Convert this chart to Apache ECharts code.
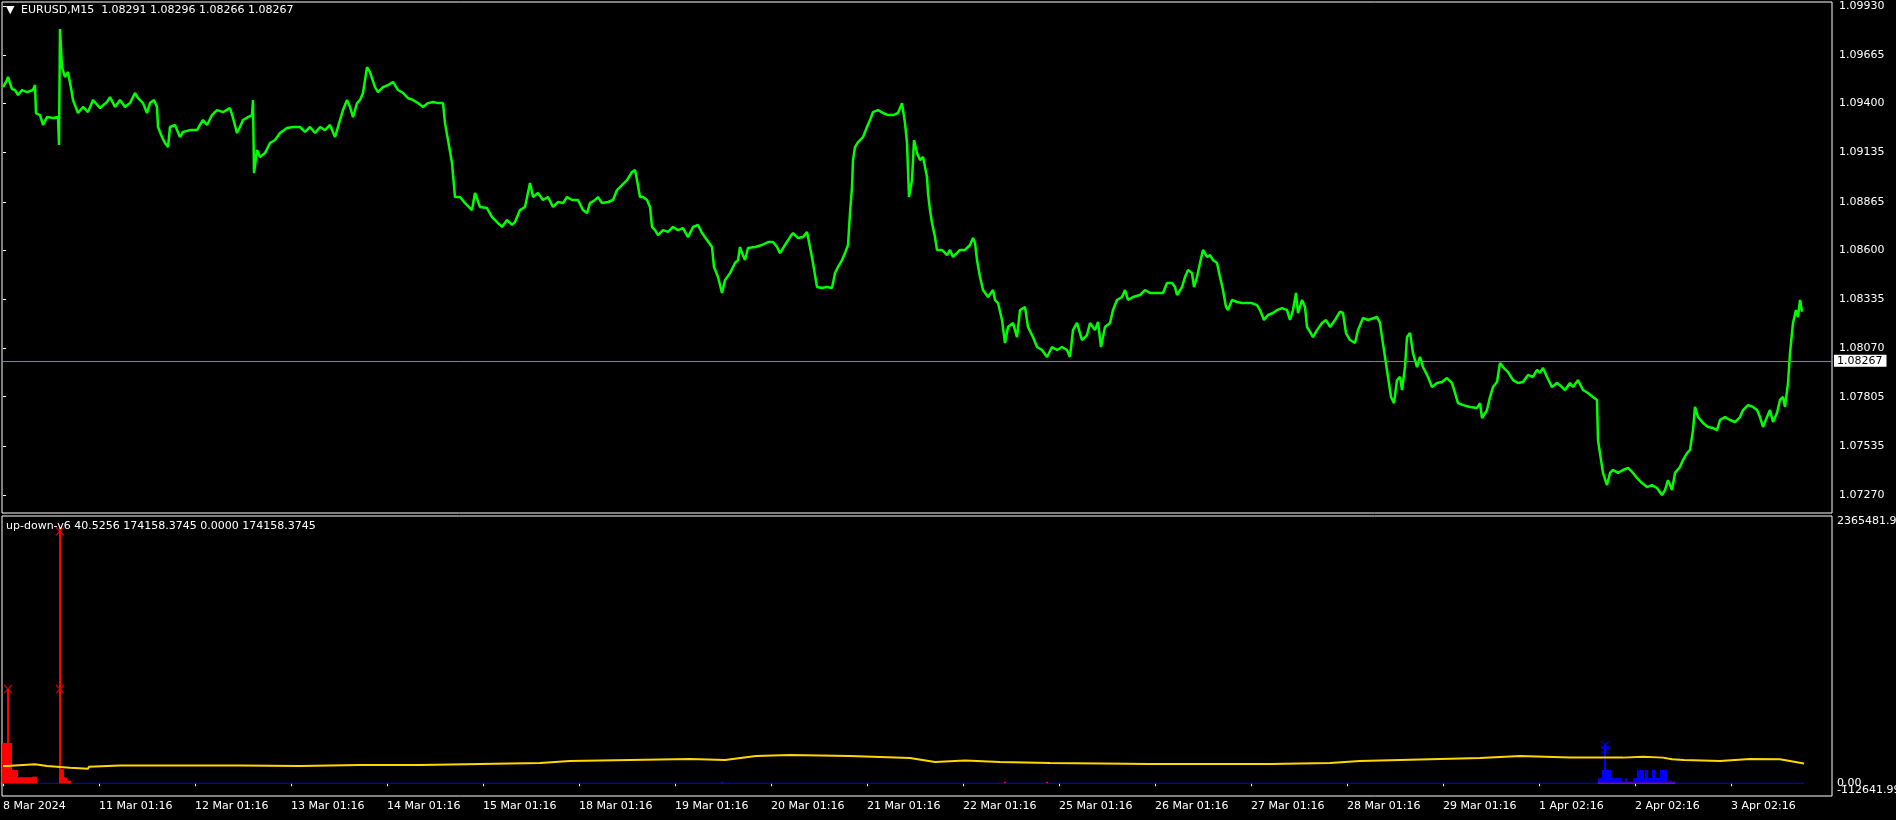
<!DOCTYPE html>
<html><head><meta charset="utf-8">
<script src="https://cdn.jsdelivr.net/npm/echarts@6/dist/echarts.min.js"></script>
<style>html,body{margin:0;padding:0;background:#000;}#c{width:1896px;height:820px;}</style>
</head><body><div id="c"></div>
<script>
// ---------- DATA ----------
const symbolName = 'EURUSD,M15';
const ohlc = ['1.08291', '1.08296', '1.08266', '1.08267'];
const indName = 'up-down-v6';
const indValues = ['40.5256', '174158.3745', '0.0000', '174158.3745'];
const priceTicks = [1.07270, 1.07535, 1.07805, 1.08070, 1.08335, 1.08600, 1.08865, 1.09135, 1.09400, 1.09665, 1.09930];
const timeLabels = ['8 Mar 2024', '11 Mar 01:16', '12 Mar 01:16', '13 Mar 01:16', '14 Mar 01:16', '15 Mar 01:16',
  '18 Mar 01:16', '19 Mar 01:16', '20 Mar 01:16', '21 Mar 01:16', '22 Mar 01:16', '25 Mar 01:16', '26 Mar 01:16',
  '27 Mar 01:16', '28 Mar 01:16', '29 Mar 01:16', '1 Apr 02:16', '2 Apr 02:16', '3 Apr 02:16'];
const barsPerLabel = 96;
const lastClose = 1.08267;
// [bar index, close]
const closeSeries = [
[0,1.09489],[4,1.09527],[5,1.09544],[9,1.09478],[12,1.09473],[15,1.09446],[19,1.09473],[24,1.09462],[30,1.09473],[32,1.09500],
[33,1.09348],[37,1.09337],[40,1.09283],[44,1.09326],[50,1.09321],[55,1.09326],[56,1.09174],[57,1.09805],[59,1.09598],[62,1.09544],
[65,1.09571],[68,1.09484],[70,1.09419],[75,1.09348],[80,1.09381],[85,1.09353],[90,1.09419],[97,1.09375],[104,1.09408],[107,1.09435],
[112,1.09381],[117,1.09419],[122,1.09381],[127,1.09402],[132,1.09457],[135,1.09429],[140,1.09402],[144,1.09348],[147,1.09402],[151,1.09419],
[154,1.09381],[155,1.09272],[159,1.09217],[162,1.09185],[165,1.09163],[167,1.09272],[172,1.09283],[177,1.09217],[180,1.09245],[187,1.09255],
[194,1.09255],[197,1.09283],[200,1.09310],[204,1.09283],[209,1.09337],[214,1.09364],[220,1.09353],[227,1.09375],[230,1.09321],[234,1.09239],
[237,1.09272],[240,1.09310],[245,1.09326],[249,1.09337],[250,1.09419],[251,1.09021],[254,1.09147],[257,1.09109],[262,1.09130],[267,1.09185],
[272,1.09201],[277,1.09239],[284,1.09266],[290,1.09272],[297,1.09272],[302,1.09245],[307,1.09272],[312,1.09239],[317,1.09272],[322,1.09255],
[327,1.09283],[332,1.09217],[337,1.09310],[340,1.09364],[344,1.09419],[347,1.09381],[350,1.09326],[354,1.09402],[357,1.09419],[360,1.09457],
[364,1.09598],[367,1.09571],[372,1.09489],[375,1.09462],[380,1.09489],[385,1.09500],[390,1.09517],[395,1.09473],[400,1.09457],[405,1.09429],
[410,1.09419],[415,1.09402],[420,1.09381],[425,1.09402],[430,1.09408],[435,1.09402],[440,1.09402],[442,1.09293],[445,1.09201],[449,1.09076],
[452,1.08891],[457,1.08891],[462,1.08858],[469,1.08820],[472,1.08913],[477,1.08837],[484,1.08831],[489,1.08782],[494,1.08755],[499,1.08728],
[504,1.08766],[509,1.08739],[512,1.08755],[517,1.08820],[522,1.08837],[527,1.08967],[530,1.08891],[535,1.08913],[540,1.08875],[545,1.08891],
[550,1.08837],[555,1.08864],[560,1.08858],[564,1.08891],[569,1.08875],[575,1.08875],[580,1.08820],[584,1.08804],[587,1.08858],[592,1.08875],
[595,1.08891],[599,1.08858],[605,1.08864],[610,1.08875],[614,1.08929],[619,1.08956],[624,1.08983],[629,1.09027],[632,1.09038],[634,1.08983],
[637,1.08891],[640,1.08891],[644,1.08875],[647,1.08837],[649,1.08728],[652,1.08711],[655,1.08684],[660,1.08711],[665,1.08701],[670,1.08728],
[675,1.08711],[680,1.08722],[685,1.08673],[690,1.08728],[695,1.08739],[699,1.08695],[704,1.08657],[709,1.08619],[711,1.08510],[715,1.08456],
[719,1.08369],[722,1.08439],[727,1.08477],[732,1.08532],[735,1.08548],[737,1.08619],[739,1.08586],[742,1.08548],[745,1.08614],[752,1.08619],
[759,1.08630],[765,1.08646],[770,1.08646],[774,1.08619],[777,1.08586],[782,1.08630],[787,1.08673],[790,1.08695],[795,1.08668],[800,1.08673],
[804,1.08701],[807,1.08619],[810,1.08532],[814,1.08401],[819,1.08396],[824,1.08401],[829,1.08396],[832,1.08477],[835,1.08510],[839,1.08548],
[842,1.08586],[845,1.08630],[847,1.08804],[849,1.08945],[850,1.09092],[852,1.09163],[855,1.09190],[860,1.09217],[864,1.09272],[867,1.09310],
[870,1.09353],[875,1.09364],[880,1.09348],[885,1.09337],[890,1.09337],[895,1.09348],[899,1.09402],[902,1.09293],[904,1.09185],[906,1.08891],
[909,1.08983],[911,1.09201],[914,1.09130],[917,1.09092],[920,1.09109],[924,1.09000],[925,1.08913],[927,1.08820],[929,1.08750],[932,1.08673],
[934,1.08603],[939,1.08603],[944,1.08575],[947,1.08603],[950,1.08565],[957,1.08603],[962,1.08603],[967,1.08630],[970,1.08668],[972,1.08641],
[974,1.08548],[977,1.08456],[980,1.08385],[985,1.08347],[990,1.08385],[992,1.08331],[995,1.08314],[999,1.08222],[1002,1.08097],[1005,1.08184],
[1010,1.08206],[1014,1.08129],[1017,1.08276],[1022,1.08293],[1025,1.08184],[1030,1.08129],[1034,1.08075],[1039,1.08059],[1044,1.08021],[1049,1.08075],
[1054,1.08059],[1059,1.08075],[1064,1.08059],[1067,1.08021],[1070,1.08167],[1074,1.08206],[1079,1.08113],[1084,1.08140],[1087,1.08206],[1092,1.08167],
[1095,1.08211],[1098,1.08075],[1102,1.08184],[1107,1.08206],[1110,1.08276],[1114,1.08331],[1119,1.08347],[1122,1.08385],[1125,1.08331],[1130,1.08347],
[1137,1.08358],[1142,1.08385],[1147,1.08369],[1154,1.08369],[1160,1.08369],[1164,1.08423],[1169,1.08423],[1172,1.08401],[1174,1.08358],[1179,1.08401],
[1182,1.08456],[1185,1.08494],[1189,1.08477],[1191,1.08401],[1194,1.08456],[1197,1.08532],[1200,1.08603],[1204,1.08565],[1207,1.08575],[1210,1.08548],
[1214,1.08532],[1217,1.08456],[1220,1.08385],[1223,1.08293],[1225,1.08276],[1229,1.08331],[1234,1.08320],[1239,1.08314],[1244,1.08314],[1249,1.08314],
[1254,1.08303],[1257,1.08276],[1261,1.08222],[1265,1.08249],[1270,1.08260],[1274,1.08276],[1279,1.08287],[1284,1.08276],[1287,1.08222],[1290,1.08276],
[1293,1.08369],[1295,1.08260],[1299,1.08331],[1302,1.08293],[1304,1.08184],[1307,1.08157],[1310,1.08129],[1314,1.08167],[1319,1.08206],[1323,1.08222],
[1327,1.08184],[1332,1.08222],[1337,1.08267],[1340,1.08260],[1343,1.08151],[1347,1.08113],[1352,1.08097],[1355,1.08167],[1360,1.08233],[1365,1.08222],
[1374,1.08238],[1377,1.08206],[1379,1.08129],[1382,1.08021],[1385,1.07912],[1388,1.07803],[1391,1.07770],[1394,1.07895],[1397,1.07912],[1399,1.07841],
[1402,1.07966],[1404,1.08129],[1407,1.08151],[1410,1.08042],[1414,1.07966],[1417,1.08021],[1420,1.07966],[1425,1.07912],[1429,1.07857],[1434,1.07879],
[1439,1.07885],[1444,1.07906],[1449,1.07879],[1452,1.07825],[1455,1.07770],[1460,1.07759],[1467,1.07749],[1474,1.07743],[1477,1.07770],[1479,1.07689],
[1484,1.07732],[1487,1.07803],[1490,1.07857],[1494,1.07885],[1497,1.07988],[1500,1.07966],[1505,1.07939],[1510,1.07895],[1515,1.07879],[1520,1.07885],
[1525,1.07923],[1530,1.07912],[1534,1.07950],[1537,1.07934],[1540,1.07961],[1544,1.07912],[1549,1.07857],[1554,1.07879],[1559,1.07857],[1562,1.07841],
[1567,1.07879],[1570,1.07857],[1575,1.07895],[1580,1.07841],[1585,1.07825],[1590,1.07803],[1594,1.07787],[1595,1.07569],[1598,1.07460],[1600,1.07390],
[1604,1.07324],[1607,1.07390],[1610,1.07406],[1615,1.07390],[1620,1.07406],[1625,1.07417],[1630,1.07390],[1634,1.07362],[1639,1.07335],[1644,1.07313],
[1649,1.07324],[1654,1.07308],[1659,1.07270],[1662,1.07297],[1665,1.07351],[1669,1.07297],[1672,1.07390],[1677,1.07422],[1680,1.07460],[1684,1.07498],
[1687,1.07515],[1690,1.07623],[1692,1.07749],[1695,1.07694],[1700,1.07662],[1705,1.07640],[1710,1.07634],[1714,1.07623],[1717,1.07678],[1722,1.07694],
[1727,1.07678],[1732,1.07667],[1737,1.07694],[1740,1.07732],[1745,1.07759],[1750,1.07749],[1754,1.07732],[1757,1.07694],[1760,1.07640],[1764,1.07694],
[1767,1.07732],[1770,1.07667],[1774,1.07716],[1777,1.07787],[1780,1.07803],[1782,1.07749],[1785,1.07879],[1787,1.08042],[1790,1.08206],[1793,1.08276],
[1795,1.08238],[1797,1.08331],[1799,1.08267]
];
// indicator
const indMax = 2365481.9;
const indMin = -112641.99;
const indTickLabels = ['2365481.9', '0.00', '-112641.99'];
const yellowLine = [
[0,153000],[4,153000],[5,168000],[32,168000],[33,153000],[44,153000],[45,138000],[67,138000],[68,129000],[85,129000],
[86,147000],[117,158000],[237,158000],[297,153000],[357,162000],[417,162000],[477,171000],[537,180000],[567,197000],
[627,206000],[687,215000],[722,206000],[753,242000],[787,250000],[847,242000],[907,224000],[932,189000],[962,202000],[997,189000],
[1047,180000],[1097,175000],[1147,171000],[1207,171000],[1267,171000],[1327,180000],[1357,197000],[1397,206000],[1437,215000],[1477,224000],
[1517,242000],[1567,227000],[1595,227000],[1596,215000],[1597,227000],[1620,227000],[1621,235000],[1640,235000],[1641,227000],[1660,227000],
[1661,212000],[1669,212000],[1670,206000],[1681,206000],[1682,195000],[1717,197000],[1747,215000],[1777,212000],[1801,174158]
];
const redHistStart = 0;
const redHist = [354000,354000,354000,354000,354000,834000,354000,354000,354000,118000,
118000,118000,118000,118000,118000,50000,50000,50000,50000,50000,
50000,50000,50000,50000,50000,50000,50000,50000,50000,50000,
58000,58000,58000,58000,0,0,0,0,0,0,
0,0,0,0,0,0,0,0,0,0,
0,0,0,0,0,0,0,2270000,124000,124000,
124000,50000,50000,50000,23000,23000,23000,23000];
const redSmall = [[1002,14000],[1044,14000]];
const redCross = [[5,834000],[5,318000],[57,2230000],[57,834000]];
const blueHistStart = 1595;
const blueHist = [14000,44000,44000,44000,44000,118000,118000,348000,118000,118000,
118000,118000,118000,44000,44000,44000,44000,14000,44000,44000,
44000,44000,44000,44000,14000,14000,14000,14000,44000,14000,
14000,14000,14000,14000,14000,14000,44000,44000,44000,44000,
118000,118000,118000,118000,118000,118000,44000,44000,118000,118000,
44000,44000,44000,44000,44000,118000,118000,44000,44000,44000,
44000,44000,44000,118000,118000,44000,118000,118000,118000,14000,
14000,14000,23000,23000,14000,14000,14000,14000];
const blueSmall = [[719,14000]];
const blueCross = [[1602,339000],[1602,295000]];
const zeroSpan = [0, 1801];
const redZeroSpan = [1595, 1672];

// ---------- CHART ----------
const FONT = 'DejaVu Sans';
const tickBars = timeLabels.map((_, i) => i * barsPerLabel);
const labelByBar = {};
tickBars.forEach((b, i) => { labelByBar[b] = timeLabels[i]; });
const crossPath = 'path://M0,1L1,0L5,4L9,0L10,1L6,5L10,9L9,10L5,6L1,10L0,9L4,5Z';

const chart = echarts.init(document.getElementById('c'), null, {renderer: 'canvas'});
chart.setOption({
  animation: false,
  backgroundColor: '#000',
  title: [
    {text: '\u25BC', left: 6, top: 5, padding: 0, textStyle: {color: '#fff', fontSize: 11, fontFamily: FONT, fontWeight: 'normal'}},
    {text: symbolName + '  ' + ohlc.join(' '), left: 21, top: 5, padding: 0,
     textStyle: {color: '#fff', fontSize: 11, fontFamily: FONT, fontWeight: 'normal'}},
    {text: indName + ' ' + indValues.join(' '), left: 6, top: 521, padding: 0,
     textStyle: {color: '#fff', fontSize: 11, fontFamily: FONT, fontWeight: 'normal'}}
  ],
  grid: [
    {left: 2, right: 64, top: 2, height: 511, show: true, borderColor: '#fff', borderWidth: 1, backgroundColor: '#000',
     containLabel: false, outerBoundsMode: 'none'},
    {left: 2, right: 64, top: 516, height: 280, show: true, borderColor: '#fff', borderWidth: 1, backgroundColor: '#000',
     containLabel: false, outerBoundsMode: 'none'}
  ],
  xAxis: [
    {gridIndex: 0, type: 'value', min: -1, max: 1829, show: false},
    {gridIndex: 1, type: 'value', min: -1, max: 1829,
     axisLine: {show: false}, splitLine: {show: false},
     axisTick: {show: true, inside: false, length: 3, customValues: tickBars, lineStyle: {color: '#fff', width: 1}},
     axisLabel: {show: true, customValues: tickBars, formatter: v => labelByBar[v] || '', color: '#fff',
                 fontFamily: FONT, fontSize: 11, align: 'left', margin: 5}}
  ],
  yAxis: [
    {gridIndex: 0, type: 'value', position: 'right', min: 1.07172, max: 1.09952, scale: true,
     axisLine: {show: false}, splitLine: {show: false},
     axisTick: {show: true, inside: false, length: 3, customValues: priceTicks, lineStyle: {color: '#fff'}},
     axisLabel: {customValues: priceTicks, formatter: v => v.toFixed(5), color: '#fff', fontFamily: FONT, fontSize: 11, margin: 7}},
    {gridIndex: 1, type: 'value', position: 'right', min: indMin, max: indMax,
     axisLine: {show: false}, splitLine: {show: false}, axisTick: {show: false},
     axisLabel: {customValues: [0], formatter: () => indTickLabels[1],
                 color: '#fff', fontFamily: FONT, fontSize: 11, margin: 5}},
    {gridIndex: 1, type: 'value', position: 'right', min: indMin, max: indMax,
     axisLine: {show: false}, splitLine: {show: false}, axisTick: {show: false},
     axisLabel: {customValues: [indMin], formatter: () => indTickLabels[2], verticalAlign: 'bottom',
                 color: '#fff', fontFamily: FONT, fontSize: 11, margin: 5}},
    {gridIndex: 1, type: 'value', position: 'right', min: indMin, max: indMax,
     axisLine: {show: false}, splitLine: {show: false}, axisTick: {show: false},
     axisLabel: {customValues: [indMax], formatter: () => indTickLabels[0], verticalAlign: 'top',
                 color: '#fff', fontFamily: FONT, fontSize: 11, margin: 5}}
  ],
  series: [
    {type: 'line', name: 'close', xAxisIndex: 0, yAxisIndex: 0, data: closeSeries, showSymbol: false, clip: false,
     lineStyle: {color: '#00ff00', width: 2.5}, z: 3,
     markLine: {silent: true, symbol: 'none', animation: false,
       data: [{yAxis: lastClose}],
       lineStyle: {color: '#778899', width: 1, type: 'solid'},
       label: {position: 'end', formatter: lastClose.toFixed(5), backgroundColor: '#fff', color: '#000',
               padding: [1, 4, 0, 3], fontFamily: FONT, fontSize: 11, distance: 2}}},
    {type: 'line', name: 'zero', xAxisIndex: 1, yAxisIndex: 1, data: zeroSpan.map(b => [b, 0]), showSymbol: false,
     lineStyle: {color: '#0000ff', width: 1}, z: 2},
    {type: 'bar', name: 'up', xAxisIndex: 1, yAxisIndex: 1, barWidth: 2, barGap: '-100%',
     data: redHist.map((v, i) => [redHistStart + i, v]).concat(redSmall), itemStyle: {color: '#ff0000'}, z: 3},
    {type: 'bar', name: 'down', xAxisIndex: 1, yAxisIndex: 1, barWidth: 2, barGap: '-100%',
     data: blueHist.map((v, i) => [blueHistStart + i, v]).concat(blueSmall), itemStyle: {color: '#0000ff'}, z: 3},
    {type: 'line', name: 'redZero', xAxisIndex: 1, yAxisIndex: 1, data: redZeroSpan.map(b => [b, 0]), showSymbol: false,
     lineStyle: {color: '#ff0000', width: 1}, z: 4},
    {type: 'line', name: 'avg', xAxisIndex: 1, yAxisIndex: 1, data: yellowLine, showSymbol: false,
     lineStyle: {color: '#ffd700', width: 2}, z: 5},
    {type: 'scatter', name: 'upX', xAxisIndex: 1, yAxisIndex: 1, data: redCross, symbol: crossPath, symbolSize: 9,
     itemStyle: {color: '#ff0000'}, z: 6},
    {type: 'scatter', name: 'downX', xAxisIndex: 1, yAxisIndex: 1, data: blueCross, symbol: crossPath, symbolSize: 9,
     itemStyle: {color: '#0000ff'}, z: 6}
  ]
});
</script>
</body></html>
